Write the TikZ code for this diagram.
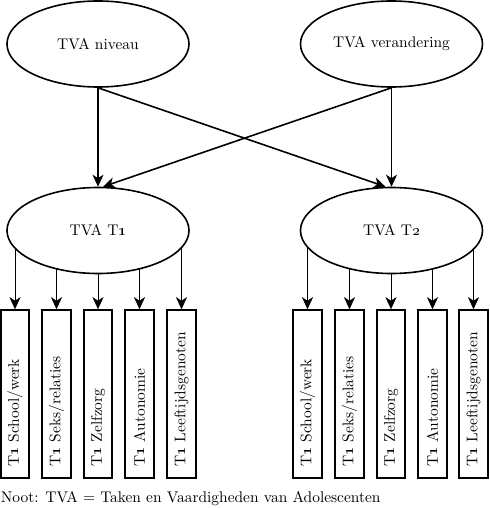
\documentclass[tikz,border=0pt]{standalone}
\usepackage{graphicx}
\usetikzlibrary{arrows.meta,shapes.geometric,backgrounds}
\newcommand\bigtxt[1]{\scalebox{1.55}{\fontsize{10}{12}\selectfont #1}}
\begin{document}
\begin{tikzpicture}[x=1bp,y=-1bp, line width=1.6bp,
  latent/.style={draw, fill=white, ellipse, minimum width=182bp, minimum height=86bp, inner sep=0pt},
  ind/.style={draw, minimum width=28.5bp, minimum height=168bp, inner sep=0pt},
  indlabel/.style={rotate=90, anchor=west, inner sep=0pt},
  arr/.style={-{Stealth[length=12bp,width=11bp,inset=3.5bp]}}]
\useasboundingbox (0,0) rectangle (490,508);
% latent variables
\node[latent] (niv) at (98,44) {\bigtxt{TVA niveau}};
\node[latent] (ver) at (391.5,44) {\bigtxt{TVA verandering}};
\node[latent] (t1) at (98,230.5) {\bigtxt{TVA T\oldstylenums{1}}};
\node[latent] (t2) at (391.5,230.5) {\bigtxt{TVA T\oldstylenums{2}}};
% indicators left
\foreach \i/\x/\t in {1/15/School\slash werk, 2/56.5/Seks\slash relaties, 3/98/Zelfzorg, 4/139.5/Autonomie, 5/181.5/Leeftijdsgenoten}{
  \node[ind] (a\i) at (\x,394) {};
  \node[indlabel] (la\i) at (\x,467) {\bigtxt{T\oldstylenums{1} \t}};
}
\foreach \i/\x/\t in {1/307.5/School\slash werk, 2/349.5/Seks\slash relaties, 3/391/Zelfzorg, 4/432.5/Autonomie, 5/473.5/Leeftijdsgenoten}{
  \node[ind] (b\i) at (\x,394) {};
  \node[indlabel] (lb\i) at (\x,467) {\bigtxt{T\oldstylenums{1} \t}};
}
% structural arrows
\draw[arr] (niv.south) -- (t1.north);
\draw[arr] (ver.south) -- (t2.north);
\draw[arr] (niv.south) -- ([xshift=-6bp]t2.north);
\draw[arr] (ver.south) -- ([xshift=5bp]t1.north);
% measurement arrows (behind the ellipses)
\begin{scope}[on background layer]
\foreach \i in {1,...,5}{
  \draw[arr] (a\i.north |- t1.center) -- (a\i.north);
  \draw[arr] (b\i.north |- t2.center) -- (b\i.north);
}
\end{scope}
\node[anchor=base west, inner sep=0pt] (note) at (0,502) {\bigtxt{Noot: TVA = Taken en Vaardigheden van Adolescenten}};
\end{tikzpicture}
\end{document}
